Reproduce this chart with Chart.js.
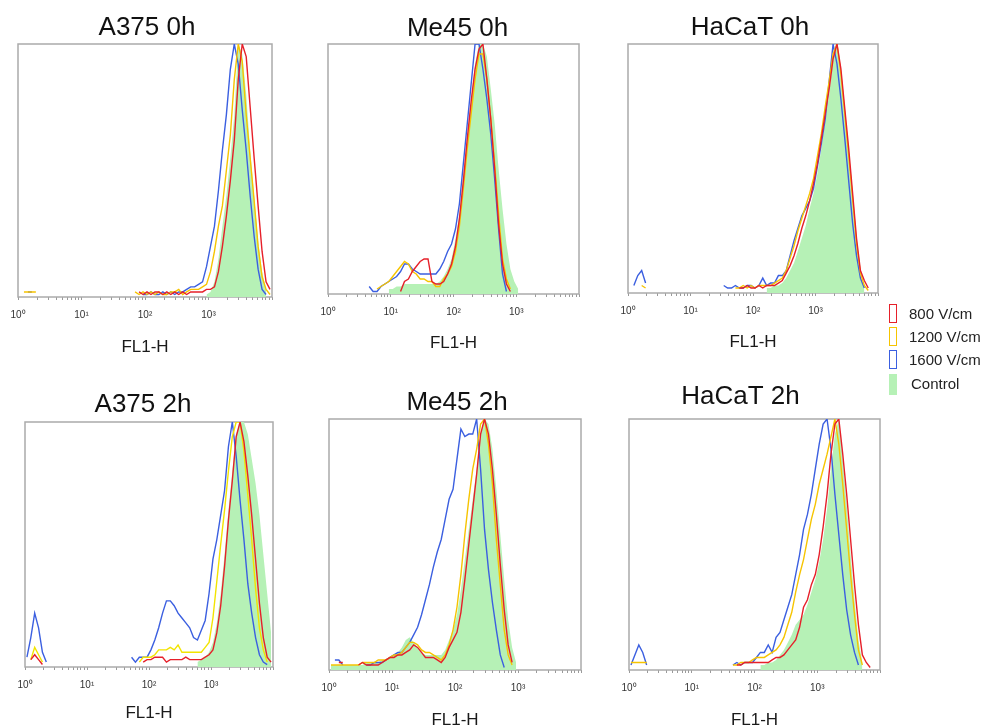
<!DOCTYPE html>
<html>
<head>
<meta charset="utf-8">
<script src="https://cdn.jsdelivr.net/npm/chart.js@4.4.1/dist/chart.umd.min.js"></script>
<style>
  body { margin: 0; background: #fff; width: 984px; height: 726px; position: relative; overflow: hidden;
         font-family: "Liberation Sans", Arial, sans-serif; }
  canvas { position: absolute; }
  .swatch { position: absolute; box-sizing: border-box; width: 8px; height: 19px; border: 1.5px solid; }
  .key { position: absolute; font-size: 15px; line-height: 18px; color: #222; white-space: nowrap; }
</style>
</head>
<body>
<script>
// FL1-H histograms, 64 log channels over 10^0..10^4, heights in % of the tallest channel
const _ = null;

const a375_0h_800 = [
  _,_,_,_,_,_,_,_,_,_,_,_,_,_,_,_,
  _,_,_,_,_,_,_,_,_,_,_,_,_,_,2,1,
  2,1,2,2,1,2,1,2,1,2,1,2,2,2,2,3,
  3,4,10,20,32,46,62,86,100,95,75,55,36,18,6,3];
const a375_0h_1200 = [
  _,2,2,2,2,_,_,_,_,_,_,_,_,_,_,_,
  _,_,_,_,_,_,_,_,_,_,_,_,_,2,1,2,
  1,2,1,2,1,1,2,2,3,1,2,3,3,3,4,5,
  10,18,28,36,50,64,86,100,93,72,55,38,20,8,3,1];
const a375_0h_1600 = [
  _,_,2,2,_,_,_,_,_,_,_,_,_,_,_,_,
  _,_,_,_,_,_,_,_,_,_,_,_,_,_,_,1,
  1,2,1,1,2,1,2,1,2,2,3,4,4,5,6,12,
  20,28,42,58,72,90,100,92,74,58,40,24,11,3,1,_];
const a375_0h_ctrl = [
  _,_,_,_,_,_,_,_,_,_,_,_,_,_,_,_,
  _,_,_,_,_,_,_,_,_,_,_,_,_,_,_,_,
  _,_,_,_,_,_,_,_,_,_,_,_,_,_,_,1,
  2,6,15,28,40,55,72,100,96,80,58,40,22,10,3,_];

const me45_0h_800 = [
  _,_,_,_,_,_,_,_,_,_,_,_,_,_,_,_,
  _,_,1,5,6,9,11,13,14,14,5,4,4,5,8,12,
  19,30,45,62,77,90,98,100,86,70,50,28,12,4,1,_,
  _,_,_,_,_,_,_,_,_,_,_,_,_,_,_,_];
const me45_0h_1200 = [
  _,_,_,_,_,_,_,_,_,_,_,_,2,3,4,5,
  7,9,11,13,12,9,8,6,6,5,5,3,3,6,8,11,
  17,27,42,58,72,86,96,96,86,70,52,32,14,6,2,_,
  _,_,_,_,_,_,_,_,_,_,_,_,_,_,_,_];
const me45_0h_1600 = [
  _,_,_,_,_,_,_,_,_,_,3,1,1,3,4,5,
  6,7,9,12,12,10,9,8,8,8,8,8,10,13,17,20,
  26,36,52,68,84,100,100,90,78,64,46,26,8,1,_,_,
  _,_,_,_,_,_,_,_,_,_,_,_,_,_,_,_];
const me45_0h_ctrl = [
  _,_,_,_,_,_,_,_,_,_,_,_,_,_,_,2,
  2,3,3,4,4,4,4,4,4,4,4,4,5,7,10,14,
  22,32,48,62,78,92,100,100,95,82,68,50,34,20,10,5,
  2,_,_,_,_,_,_,_,_,_,_,_,_,_,_,_];

const hacat_0h_800 = [
  _,_,_,_,_,_,_,_,_,_,_,_,_,_,_,_,
  _,_,_,_,_,_,_,_,_,_,_,_,2,2,3,2,
  2,3,2,3,3,3,4,5,8,11,15,20,26,31,37,44,
  52,62,72,82,94,100,90,74,58,40,22,9,5,2,_,_];
const hacat_0h_1200 = [
  _,_,_,3,2,_,_,_,_,_,_,_,_,_,_,_,
  _,_,_,_,_,_,_,_,_,_,_,2,2,3,2,3,
  2,3,3,3,3,4,5,6,9,14,19,25,30,35,40,46,
  55,64,75,85,96,100,88,72,55,38,20,8,3,1,_,_];
const hacat_0h_1600 = [
  _,3,7,9,4,_,_,_,_,_,_,_,_,_,_,_,
  _,_,_,_,_,_,_,_,3,2,2,3,2,2,3,3,
  2,3,6,3,4,4,7,7,9,15,21,26,31,34,37,42,
  51,60,70,85,100,92,78,62,45,28,15,6,2,_,_,_];
const hacat_0h_ctrl = [
  _,_,_,_,_,_,_,_,_,_,_,_,_,_,_,_,
  _,_,_,_,_,_,_,_,_,_,_,_,_,_,_,_,
  _,_,_,2,2,3,3,4,6,9,12,17,22,27,34,40,
  48,58,70,80,94,100,88,72,55,37,20,7,2,_,_,_];

const a375_2h_800 = [
  _,3,5,3,1,_,_,_,2,_,_,_,_,_,_,_,
  _,_,_,_,_,_,_,_,_,_,_,_,_,_,2,3,
  3,4,4,4,2,3,3,3,3,4,3,3,3,3,4,5,
  7,14,25,41,60,76,94,100,92,78,62,44,26,12,4,2];
const a375_2h_1200 = [
  _,3,8,5,2,_,_,_,_,_,_,_,_,_,_,_,
  _,_,_,_,_,_,_,_,_,_,_,_,_,2,4,4,
  4,5,7,7,7,8,7,9,6,6,6,6,6,6,8,10,
  20,35,50,64,80,94,100,100,88,70,52,32,16,7,2,_];
const a375_2h_1600 = [
  4,12,22,16,6,2,_,_,3,_,_,_,_,_,_,_,
  _,_,_,_,_,_,_,_,_,_,_,4,2,4,4,4,
  7,11,16,22,27,27,25,22,20,18,16,12,11,15,19,30,
  44,52,62,72,90,100,86,68,52,34,22,12,5,2,1,_];
const a375_2h_ctrl = [
  _,_,_,_,_,_,_,_,_,_,_,_,_,_,_,_,
  _,_,_,_,_,_,_,_,_,_,_,_,_,_,_,_,
  _,_,_,_,_,_,_,_,_,_,_,_,2,3,4,6,
  10,18,30,46,64,80,95,100,100,95,85,75,62,46,30,14];

const me45_2h_800 = [
  _,_,3,3,_,_,_,2,3,2,2,2,2,3,4,5,
  5,6,6,7,8,10,9,7,5,5,5,4,3,5,9,12,
  15,23,36,50,64,78,94,100,94,80,62,42,24,10,3,_,
  _,_,_,_,_,_,_,_,_,_,_,_,_,_,_,_];
const me45_2h_1200 = [
  2,2,2,2,2,2,2,2,3,3,3,3,4,4,4,5,
  6,6,7,9,11,11,10,8,7,7,6,5,4,6,10,16,
  25,38,54,68,80,88,98,100,90,74,52,34,16,6,2,_,
  _,_,_,_,_,_,_,_,_,_,_,_,_,_,_,_];
const me45_2h_1600 = [
  _,4,4,2,_,_,_,_,_,2,2,3,3,3,4,5,
  6,7,7,9,11,14,17,22,28,34,41,47,52,60,68,72,
  84,96,93,94,94,100,80,56,40,27,16,6,1,_,_,_,
  _,_,_,_,_,_,_,_,_,_,_,_,_,_,_,_];
const me45_2h_ctrl = [
  2,2,2,2,2,2,2,2,2,3,3,3,3,4,4,5,
  6,7,9,12,13,11,9,7,6,6,6,6,6,8,12,16,
  22,32,44,56,68,80,94,100,98,88,72,54,36,20,9,3,
  _,_,_,_,_,_,_,_,_,_,_,_,_,_,_,_];

const hacat_2h_800 = [
  _,_,_,_,_,_,_,_,_,_,_,_,_,_,_,_,
  _,_,_,_,_,_,_,_,_,_,_,2,2,3,3,3,
  3,3,3,3,4,5,5,6,8,10,12,17,25,28,34,38,
  46,57,70,86,98,100,86,70,52,34,18,6,3,1,_,_];
const hacat_2h_1200 = [
  3,3,3,3,3,_,_,_,_,_,_,_,_,_,_,_,
  _,_,_,_,_,_,_,_,_,_,2,2,3,3,3,4,
  5,5,5,6,7,8,10,13,18,23,31,38,44,52,60,66,
  74,80,86,93,100,90,74,56,38,22,8,2,_,_,_,_];
const hacat_2h_1600 = [
  2,6,10,7,2,_,_,_,_,_,_,_,_,_,_,_,
  _,_,_,_,_,_,_,2,_,_,2,3,2,3,3,3,
  5,7,7,10,7,13,15,20,25,30,38,46,56,62,70,80,
  90,98,100,88,70,54,38,24,14,7,2,_,_,_,_,_];
const hacat_2h_ctrl = [
  _,_,_,_,_,_,_,_,_,_,_,_,_,_,_,_,
  _,_,_,_,_,_,_,_,_,_,_,_,_,_,_,_,
  _,2,2,3,3,4,6,8,11,14,18,20,22,26,31,36,
  43,52,64,80,94,100,84,66,46,28,12,3,_,_,_,_];

const seriesNames = ['800 V/cm', '1200 V/cm', '1600 V/cm', 'Control'];
const decadeValues = [1, 10, 100, 1000];
const decadeLabels = ['10\u2070', '10\u00b9', '10\u00b2', '10\u00b3'];

// channel centres: 16 per decade
const channelCenters = [];
for (let i = 0; i < 64; i++) channelCenters.push(Math.pow(10, (i + 0.5) / 16));
// minor tick marks 1..9 per decade
const tickValues = [];
for (let d = 1; d <= 1000; d *= 10) for (let m = 1; m <= 9; m++) tickValues.push(m * d);
tickValues.push(10000);

const RED = '#e6202a', BLUE = '#3b5fe0', GREEN = '#b6f1b6';

// box = [left, top, right, bottom] of the plot frame on the page
const panels = [
  { title: 'A375 0h',  box: [18, 44, 272, 297],  titleGap: 16, labelGap: 50, shift: 2,   yellow: '#f6c400',
    data: [a375_0h_800, a375_0h_1200, a375_0h_1600, a375_0h_ctrl] },
  { title: 'Me45 0h',  box: [328, 44, 579, 294], titleGap: 15, labelGap: 49, shift: 4,   yellow: '#f6c400',
    data: [me45_0h_800, me45_0h_1200, me45_0h_1600, me45_0h_ctrl] },
  { title: 'HaCaT 0h', box: [628, 44, 878, 293], titleGap: 16, labelGap: 49, shift: -3,  yellow: '#f6c400',
    data: [hacat_0h_800, hacat_0h_1200, hacat_0h_1600, hacat_0h_ctrl] },
  { title: 'A375 2h',  box: [25, 422, 273, 667], titleGap: 17, labelGap: 46, shift: -6,  yellow: '#f2e400',
    data: [a375_2h_800, a375_2h_1200, a375_2h_1600, a375_2h_ctrl] },
  { title: 'Me45 2h',  box: [329, 419, 581, 670], titleGap: 16, labelGap: 50, shift: 2,  yellow: '#f6c400',
    data: [me45_2h_800, me45_2h_1200, me45_2h_1600, me45_2h_ctrl] },
  { title: 'HaCaT 2h', box: [629, 419, 880, 670], titleGap: 22, labelGap: 50, shift: -14, yellow: '#f6c400',
    data: [hacat_2h_800, hacat_2h_1200, hacat_2h_1600, hacat_2h_ctrl] }
];

Chart.defaults.font.family = '"Liberation Sans", Arial, sans-serif';
Chart.defaults.color = '#222';

// grey frame round the plot area
const framePlugin = {
  id: 'frame',
  beforeDatasetsDraw(chart) {
    const a = chart.chartArea, ctx = chart.ctx;
    ctx.save();
    ctx.strokeStyle = '#ababab';
    ctx.lineWidth = 1.5;
    ctx.strokeRect(a.left, a.top, a.right - a.left, a.bottom - a.top);
    ctx.restore();
  }
};

function histo(values) {
  return values.map((v, i) => ({ x: channelCenters[i], y: v }));
}

function outline(label, values, color) {
  return { label, data: histo(values), borderColor: color, borderWidth: 1.4, tension: 0,
           pointRadius: 0, fill: false, spanGaps: false };
}

const side = 24;
panels.forEach(p => {
  const [L, T, R, B] = p.box;
  const w = Math.abs(p.shift) * 2;
  const left = L - side - (p.shift < 0 ? w : 0);
  const top = T - 15 - p.titleGap;
  const width = (R - L) + 2 * side + w;
  const height = B + p.labelGap + 10 - top;

  const canvas = document.createElement('canvas');
  canvas.width = width;
  canvas.height = height;
  canvas.style.left = left + 'px';
  canvas.style.top = top + 'px';
  document.body.appendChild(canvas);

  new Chart(canvas, {
    type: 'line',
    data: {
      datasets: [
        outline(seriesNames[0], p.data[0], RED),
        outline(seriesNames[1], p.data[1], p.yellow),
        outline(seriesNames[2], p.data[2], BLUE),
        { label: seriesNames[3], data: histo(p.data[3]), borderColor: 'rgba(0,0,0,0)', borderWidth: 0,
          backgroundColor: GREEN, fill: 'origin', tension: 0, pointRadius: 0, spanGaps: false }
      ]
    },
    options: {
      responsive: false,
      animation: false,
      events: [],
      layout: { padding: { left: side, right: side, top: 0, bottom: 0 } },
      plugins: {
        legend: { display: false },
        tooltip: { enabled: false },
        title: { display: true, text: p.title, color: '#111',
                 font: { size: 26, weight: 'normal', lineHeight: '30px' },
                 padding: { top: 0, bottom: p.titleGap - 15 } }
      },
      scales: {
        x: {
          type: 'logarithmic', min: 1, max: 10000,
          afterBuildTicks: s => { s.ticks = tickValues.map(v => ({ value: v })); },
          ticks: {
            autoSkip: false, maxRotation: 0, minRotation: 0, padding: 10, color: '#333',
            font: { size: 10, lineHeight: '10px' },
            callback: v => { const k = decadeValues.indexOf(v); return k >= 0 ? decadeLabels[k] : ''; }
          },
          grid: { display: true, drawOnChartArea: false, drawTicks: true, tickLength: 3,
                  tickColor: '#9a9a9a', tickWidth: 1 },
          border: { display: false },
          title: { display: true, text: 'FL1-H', color: '#1a1a1a',
                   font: { size: 17, lineHeight: '20px' },
                   padding: { top: p.labelGap - 43, bottom: 0 } }
        },
        y: {
          type: 'linear', min: 0, max: 100,
          position: p.shift < 0 ? 'left' : 'right',
          ticks: { display: false },
          grid: { display: false },
          border: { display: false },
          afterFit: s => { s.width = w; }
        }
      }
    },
    plugins: [framePlugin]
  });
});

// legend at the right of the HaCaT 0h panel
const legendColors = [RED, '#f6c400', BLUE, GREEN];
const legendCenters = [314, 337, 360, 384];
seriesNames.forEach((name, i) => {
  const sw = document.createElement('div');
  sw.className = 'swatch';
  sw.style.left = '889px';
  sw.style.top = (legendCenters[i] - 10) + 'px';
  if (i === 3) {
    sw.style.border = 'none';
    sw.style.background = legendColors[i];
    sw.style.height = '21px';
  } else {
    sw.style.borderColor = legendColors[i];
  }
  document.body.appendChild(sw);
  const key = document.createElement('div');
  key.className = 'key';
  key.style.left = (i === 3 ? 911 : 909) + 'px';
  key.style.top = (legendCenters[i] - 9) + 'px';
  key.textContent = name;
  document.body.appendChild(key);
});
</script>
</body>
</html>
